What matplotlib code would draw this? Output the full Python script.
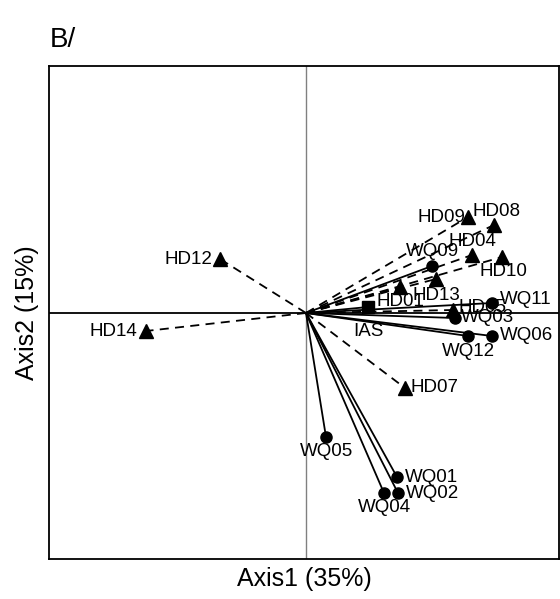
import matplotlib
matplotlib.use("Agg")
import matplotlib.pyplot as plt

plt.rcParams['font.family'] = ['Liberation Sans', 'DejaVu Sans']

# Data (axis units)
names = ["HD12", "HD14", "HD07", "HD09", "HD08", "HD04", "HD10", "HD13", "HD01", "HD05",
         "WQ09", "WQ11", "WQ03", "WQ06", "WQ12", "WQ05", "WQ01", "WQ02", "WQ04", "IAS"]
axis1 = [-0.86, -1.60, 0.99, 1.62, 1.88, 1.66, 1.96, 1.30, 0.94, 1.47,
         1.26, 1.86, 1.49, 1.86, 1.62, 0.20, 0.91, 0.92, 0.78, 0.62]
axis2 = [0.54, -0.18, -0.75, 0.96, 0.88, 0.58, 0.56, 0.34, 0.26, 0.03,
         0.47, 0.10, -0.05, -0.23, -0.23, -1.24, -1.64, -1.80, -1.80, 0.06]
kinds = ["HD"] * 10 + ["WQ"] * 9 + ["IAS"]

# label placement (pixels offset, alignment)
label_style = {
    "HD12": (-8, 0, "right", "center"), "HD14": (-9, 0, "right", "center"),
    "HD07": (6, 0, "left", "center"), "HD09": (-3, 0, "right", "center"),
    "HD08": (3, 13, "center", "center"), "HD04": (0, 13, "center", "center"),
    "HD10": (1, -14, "center", "center"), "HD13": (0, -16, "center", "center"),
    "HD01": (0, -14, "center", "center"), "HD05": (6, 3, "left", "center"),
    "WQ09": (0, 14, "center", "center"), "WQ11": (8, 3, "left", "center"),
    "WQ03": (6, 0, "left", "center"), "WQ06": (8, 0, "left", "center"),
    "WQ12": (0, -16, "center", "center"), "WQ05": (1, -15, "center", "center"),
    "WQ01": (8, 0, "left", "center"), "WQ02": (8, 0, "left", "center"),
    "WQ04": (0, -15, "center", "center"), "IAS": (0, -25, "center", "center"),
}

fig = plt.figure(figsize=(5.6, 5.99), dpi=100)
ax = fig.add_axes([49/560, 1 - 559/599, 510/560, 493/599])
ax.set_xlim(-2.57, 2.53)
ax.set_ylim(-2.46, 2.47)

ax.axvline(0, color="#808080", lw=1.0, zorder=1)
ax.axhline(0, color="black", lw=1.3, zorder=1)

for n, x, y, k in zip(names, axis1, axis2, kinds):
    if k == "HD":
        ax.plot([0, x], [0, y], color="black", lw=1.3, ls=(0, (5, 3.5)), zorder=2)
        ax.plot(x, y, marker="^", ms=9.5, color="black", ls="none", zorder=3)
    elif k == "WQ":
        ax.plot([0, x], [0, y], color="black", lw=1.3, ls="-", zorder=2)
        ax.plot(x, y, marker="o", ms=8, color="black", ls="none", zorder=3)
    else:
        ax.plot([0, x], [0, y], color="black", lw=1.3, ls="-", zorder=2)
        ax.plot(x, y, marker="s", ms=8, color="black", ls="none", zorder=3)
    dx, dy, ha, va = label_style[n]
    ax.annotate(n, (x, y), xytext=(dx, dy), textcoords="offset pixels",
                ha=ha, va=va, fontsize=13.5, color="black", zorder=4)

ax.set_xticks([])
ax.set_yticks([])
for s in ax.spines.values():
    s.set_linewidth(1.3)
    s.set_color("black")

ax.set_xlabel("Axis1 (35%)", fontsize=18, labelpad=6)
ax.set_ylabel("Axis2 (15%)", fontsize=18, labelpad=7)
fig.text(50/560, 1 - 40/599, "B/", fontsize=20, ha="left", va="center")

fig.savefig("out.png", dpi=100)
